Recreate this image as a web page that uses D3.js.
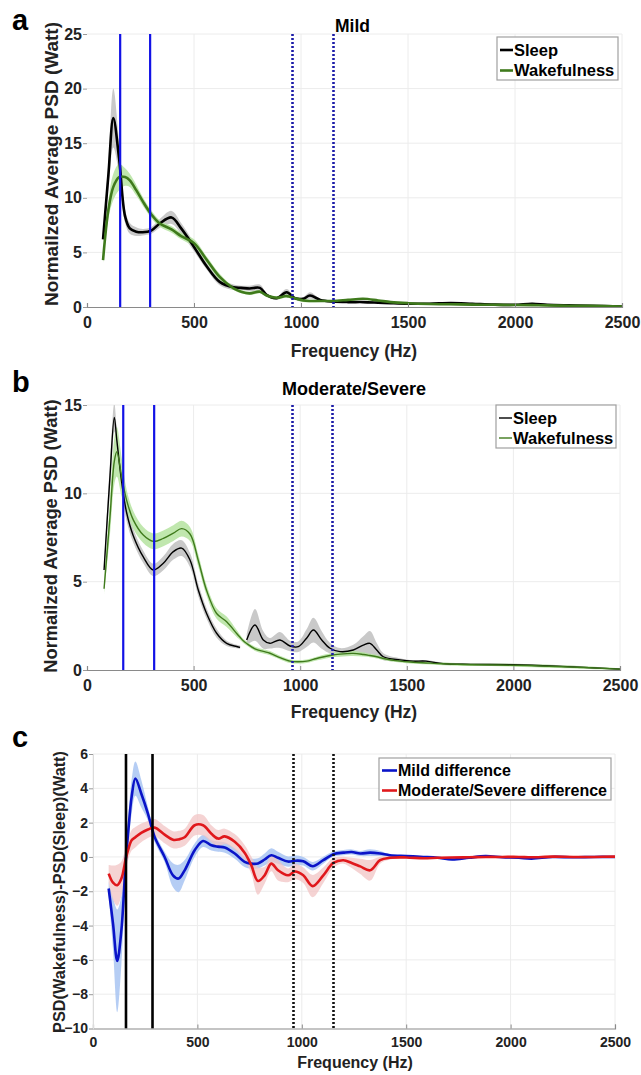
<!DOCTYPE html>
<html><head><meta charset="utf-8">
<script src="https://cdn.jsdelivr.net/npm/d3@7"></script>
<style>
body{margin:0;background:#fff}
text{font-family:"Liberation Sans",Arial,Helvetica,sans-serif;font-weight:bold}
</style>
</head><body>
<svg id="chart" width="641" height="1075"></svg>
<script>
// ---------- DATA ----------
const xTickLabels = [0, 500, 1000, 1500, 2000, 2500];
const aYTicks = [0, 5, 10, 15, 20, 25];
const bYTicks = [0, 5, 10, 15];
const cYTicks = [-10, -8, -6, -4, -2, 0, 2, 4, 6];

// Panel a: Mild
const aFreq  = [75,100,123,150,178,200,230,260,300,340,395,440,500,560,620,685,720,760,808,840,886,933,972,1010,1042,1090,1150,1220,1290,1360,1420,1500,1600,1700,1800,1900,2000,2080,2150,2250,2350,2500];
const aSleep = [6.2,12.1,17.3,13.6,8.3,7.2,6.9,6.85,7.0,7.65,8.2,7.2,5.5,3.7,2.3,1.8,1.75,1.7,1.75,1.1,0.8,1.35,0.8,0.75,1.05,0.65,0.5,0.45,0.45,0.4,0.35,0.3,0.3,0.37,0.3,0.22,0.2,0.3,0.2,0.15,0.12,0.05];
const aSleepErr = [0.4,1.2,2.7,1.5,0.6,0.5,0.4,0.3,0.3,0.4,0.6,0.5,0.4,0.3,0.3,0.25,0.2,0.25,0.3,0.15,0.15,0.3,0.15,0.15,0.3,0.1,0.08,0.08,0.08,0.08,0.08,0.08,0.08,0.08,0.08,0.08,0.08,0.08,0.08,0.08,0.08,0.05];
const aWake  = [4.3,8.9,11.0,11.9,11.9,11.6,10.7,9.7,8.5,7.65,7.1,6.5,5.85,4.3,2.75,1.7,1.4,1.25,1.4,1.05,0.85,1.0,0.8,0.6,0.55,0.55,0.55,0.65,0.75,0.6,0.45,0.35,0.28,0.25,0.22,0.2,0.18,0.17,0.15,0.12,0.1,0.05];
const aWakeErr = [0.3,0.8,1.2,1.2,0.8,0.6,0.5,0.4,0.35,0.3,0.3,0.3,0.35,0.3,0.3,0.15,0.15,0.15,0.15,0.15,0.15,0.15,0.15,0.15,0.12,0.1,0.08,0.08,0.08,0.08,0.08,0.08,0.08,0.08,0.08,0.08,0.08,0.08,0.08,0.08,0.08,0.05];

// Panel b: Moderate/Severe (null = gap in sleep trace)
const bFreq  = [80,108,128,140,163,186,217,264,311,358,405,444,483,522,561,608,655,702,718,733,749,788,827,858,905,952,991,1030,1062,1101,1140,1187,1249,1296,1327,1359,1390,1468,1530,1590,1670,1800,2000,2200,2500];
const bSleep = [5.66,11.0,14.3,13.0,10.6,8.9,7.6,6.4,5.66,6.04,6.7,6.9,6.23,4.53,3.2,2.08,1.51,1.33,1.28,null,1.7,2.55,1.7,1.51,1.7,1.36,1.32,1.8,2.26,1.7,1.23,1.04,1.13,1.41,1.51,1.13,0.75,0.57,0.5,0.5,0.36,0.32,0.3,0.22,0.05];
const bSleepErr = [0.3,0.8,0.8,0.6,0.5,0.5,0.4,0.35,0.35,0.4,0.45,0.45,0.4,0.35,0.3,0.25,0.15,0.1,0.1,null,0.3,0.9,0.5,0.3,0.45,0.3,0.3,0.5,0.7,0.5,0.3,0.2,0.3,0.5,0.7,0.4,0.2,0.1,0.06,0.06,0.06,0.06,0.06,0.06,0.04];
const bWake  = [4.6,8.7,11.8,12.35,10.9,9.6,8.5,7.64,7.28,7.45,7.75,8.0,7.7,6.2,4.5,3.2,2.73,2.07,1.85,1.65,1.5,1.2,1.05,0.95,0.7,0.5,0.47,0.5,0.6,0.72,0.82,0.9,0.94,0.88,0.82,0.75,0.65,0.5,0.44,0.4,0.35,0.3,0.27,0.2,0.05];
const bWakeErr = [0.3,1.0,1.3,1.4,1.1,0.6,0.5,0.45,0.45,0.45,0.45,0.45,0.4,0.35,0.3,0.3,0.3,0.2,0.15,0.12,0.12,0.12,0.12,0.12,0.1,0.1,0.1,0.1,0.1,0.12,0.12,0.15,0.15,0.12,0.1,0.1,0.08,0.08,0.08,0.08,0.08,0.08,0.08,0.08,0.05];

// Panel c: differences
const cFreq = [75,96,116,136,157,168,185,203,231,263,295,343,383,410,439,487,527,567,599,631,679,726,758,790,822,854,886,934,967,1007,1052,1103,1151,1199,1239,1280,1327,1375,1422,1500,1582,1650,1720,1800,1880,1960,2040,2100,2200,2300,2400,2500];
const cMild = [-1.84,-3.9,-6.06,-4.27,-0.19,1.36,3.5,4.57,3.7,2.53,1.17,0.0,-1.07,-1.26,-0.78,0.39,0.93,0.68,0.6,0.55,0.2,-0.29,-0.39,-0.38,-0.15,0.1,-0.05,-0.27,-0.22,-0.25,-0.54,-0.19,0.16,0.25,0.29,0.2,0.25,0.2,0.1,0.05,0.0,-0.05,-0.15,-0.05,0.05,-0.02,-0.05,-0.1,0.0,-0.02,0.0,0.0];
const cMildErr = [0.4,1.5,3.0,2.0,0.8,0.8,1.0,1.0,0.8,0.4,0.3,0.3,0.7,0.8,0.6,0.4,0.35,0.3,0.3,0.3,0.3,0.3,0.3,0.3,0.35,0.4,0.35,0.3,0.3,0.25,0.25,0.2,0.15,0.15,0.15,0.15,0.2,0.15,0.06,0.06,0.06,0.06,0.06,0.06,0.06,0.06,0.06,0.06,0.06,0.06,0.06,0.06];
const cSevere = [-0.97,-1.5,-1.65,-1.26,-0.1,0.4,0.97,1.15,1.4,1.6,1.71,1.3,1.0,1.02,1.15,1.85,1.85,1.35,1.07,1.2,0.88,0.25,-0.48,-1.4,-1.07,-0.39,-0.78,-1.07,-0.85,-1.07,-1.7,-1.07,-0.35,-0.19,-0.35,-0.55,-0.78,-0.19,-0.05,-0.03,-0.08,-0.05,-0.03,-0.02,0.0,0.0,0.0,-0.02,0.02,0.0,0.0,0.02];
const cSevereErr = [0.5,1.0,1.2,1.0,0.7,0.6,0.6,0.6,0.55,0.5,0.5,0.5,0.5,0.5,0.5,0.6,0.6,0.5,0.5,0.45,0.45,0.45,0.5,0.8,0.5,0.45,0.6,0.4,0.45,0.45,0.65,0.45,0.3,0.2,0.3,0.45,0.6,0.2,0.1,0.05,0.05,0.05,0.05,0.05,0.05,0.05,0.05,0.05,0.05,0.05,0.05,0.05];

// boundary lines (Hz)
const aBounds = [155, 295], bBounds = [170, 315], cBounds = [158, 285];
const dottedBounds = [960, 1150];

// ---------- DRAW ----------
const svg = d3.select("#chart");

function rows(freq, v, e) {
  return freq.map((f, i) => ({f, v: v[i], e: e[i]}));
}

function panel(cfg) {
  const g = svg.append("g");
  const x = d3.scaleLinear().domain([0, 2500]).range([cfg.left, cfg.right]);
  const y = d3.scaleLinear().domain([cfg.yTicks[0], cfg.yTicks[cfg.yTicks.length-1]]).range([cfg.bottom, cfg.top]);

  // grid
  g.selectAll(".hg").data(cfg.yTicks.slice(1)).join("line")
    .attr("x1", cfg.left).attr("x2", cfg.right)
    .attr("y1", d => y(d)).attr("y2", d => y(d))
    .attr("stroke", "#ececec").attr("stroke-width", 1);
  g.selectAll(".vg").data(xTickLabels.slice(cfg.leftGrid ? 0 : 1)).join("line")
    .attr("x1", d => x(d)).attr("x2", d => x(d))
    .attr("y1", cfg.top).attr("y2", cfg.bottom)
    .attr("stroke", "#ececec").attr("stroke-width", 1);

  const defs = svg.append("defs");
  const cid = "clip" + cfg.id;
  defs.append("clipPath").attr("id", cid).append("rect")
    .attr("x", cfg.left).attr("y", cfg.top).attr("width", cfg.right - cfg.left).attr("height", cfg.bottom - cfg.top);
  const pg = g.append("g").attr("clip-path", `url(#${cid})`);

  const curve = d3.curveCatmullRom.alpha(0.5);
  const area = d3.area().defined(d => d.v != null)
    .x(d => x(d.f)).y0(d => y(d.v - d.e)).y1(d => y(d.v + d.e)).curve(curve);
  const line = d3.line().defined(d => d.v != null)
    .x(d => x(d.f)).y(d => y(d.v)).curve(curve);

  cfg.series.forEach(s => {
    pg.append("path").datum(s.data).attr("d", area).attr("fill", s.band).attr("opacity", s.bandOp || 1);
  });
  cfg.series.forEach(s => {
    pg.append("path").datum(s.data).attr("d", line).attr("fill", "none")
      .attr("stroke", s.color).attr("stroke-width", cfg.lw).attr("stroke-linejoin", "round");
  });

  // boundary lines
  cfg.bounds.forEach(b => {
    g.append("line").attr("x1", x(b)).attr("x2", x(b)).attr("y1", cfg.top).attr("y2", cfg.bottom)
      .attr("stroke", cfg.boundColor).attr("stroke-width", cfg.boundW);
  });
  dottedBounds.forEach(b => {
    g.append("line").attr("x1", Math.round(x(b)) + 0.5).attr("x2", Math.round(x(b)) + 0.5).attr("y1", cfg.top).attr("y2", cfg.bottom)
      .attr("stroke", cfg.dotColor).attr("stroke-width", 2.6).attr("stroke-dasharray", "2,2");
  });

  // axes
  const xa = g.append("g").attr("transform", `translate(0,${cfg.bottom})`)
    .call(d3.axisBottom(x).tickValues(xTickLabels).tickFormat(d3.format("d")).tickSize(-4).tickPadding(cfg.xPad));
  xa.select(".domain").attr("stroke", "#8a8a8a").attr("stroke-width", 1.2);
  xa.selectAll(".tick line").attr("stroke", "#8a8a8a");
  xa.selectAll("text").attr("font-size", cfg.tickFs).attr("fill", "#222")
    .attr("font-family", '"Liberation Sans",Arial,sans-serif').attr("font-weight", "bold");

  const ya = g.append("g").attr("transform", `translate(${cfg.left},0)`)
    .call(d3.axisLeft(y).tickValues(cfg.yTicks).tickFormat(d3.format("d")).tickSize(4).tickPadding(cfg.yPad));
  ya.select(".domain").attr("stroke", cfg.yDomain ? "#dcdcdc" : "none");
  ya.selectAll(".tick line").attr("stroke", "#9a9a9a");
  ya.selectAll("text").attr("font-size", cfg.tickFs).attr("fill", "#222")
    .attr("font-family", '"Liberation Sans",Arial,sans-serif').attr("font-weight", "bold");

  // axis titles
  g.append("text").attr("x", cfg.xTitle[0]).attr("y", cfg.xTitle[1]).attr("text-anchor", "middle")
    .attr("font-size", cfg.xTitleFs).attr("fill", "#222").text("Frequency (Hz)");
  g.append("text").attr("transform", `translate(${cfg.yTitle[0]},${cfg.yTitle[1]}) rotate(-90)`)
    .attr("text-anchor", "middle").attr("font-size", cfg.yTitleFs).attr("fill", "#222").text(cfg.yTitleText);

  // panel letter
  g.append("text").attr("x", 12).attr("y", cfg.letterY).attr("font-size", 29).attr("fill", "#000").text(cfg.letter);

  // title
  if (cfg.title) {
    g.append("text").attr("x", cfg.title[0]).attr("y", cfg.title[1]).attr("font-size", cfg.title[3])
      .attr("fill", "#000").text(cfg.title[2]);
  }

  // legend
  const L = cfg.legend;
  g.append("rect").attr("x", L.x).attr("y", L.y).attr("width", L.w).attr("height", L.h)
    .attr("fill", "#fff").attr("stroke", "#a0a0a0").attr("stroke-width", 1.2);
  cfg.series.forEach((s, i) => {
    const ly = L.y + L.first + i * L.step;
    g.append("line").attr("x1", L.x + 3).attr("x2", L.x + 3 + L.sw).attr("y1", ly).attr("y2", ly)
      .attr("stroke", s.color).attr("stroke-width", L.lw);
    g.append("text").attr("x", L.x + 4 + L.sw).attr("y", ly).attr("dy", "0.36em")
      .attr("font-size", L.fs).attr("fill", "#000").text(s.name);
  });
}

panel({
  id: "a", left: 87, right: 622, top: 34, bottom: 307, yTicks: aYTicks, lw: 2.6,
  series: [
    {name: "Sleep", data: rows(aFreq, aSleep, aSleepErr), color: "#000000", band: "#c9c9c9"},
    {name: "Wakefulness", data: rows(aFreq, aWake, aWakeErr), color: "#3f7a1c", band: "#b5e3a0", bandOp: 0.85}
  ],
  bounds: aBounds, boundColor: "#1212e6", boundW: 2.2, dotColor: "#1c1ca8",
  xPad: 10, yPad: 1, tickFs: 16,
  xTitle: [354, 357], xTitleFs: 17.5,
  yTitle: [58, 164], yTitleFs: 19, yTitleText: "Normailzed Average PSD (Watt)",
  letter: "a", letterY: 30,
  title: [335, 32, "Mild", 17.5],
  legend: {x: 497, y: 37, w: 121, h: 43, first: 13, step: 20.5, sw: 13, lw: 2.6, fs: 16.5}
});

panel({
  id: "b", left: 87, right: 620, top: 405, bottom: 670, yTicks: bYTicks, lw: 1.4,
  series: [
    {name: "Sleep", data: rows(bFreq, bSleep, bSleepErr), color: "#000000", band: "#c9c9c9"},
    {name: "Wakefulness", data: rows(bFreq, bWake, bWakeErr), color: "#3f7a1c", band: "#b5e3a0", bandOp: 0.85}
  ],
  bounds: bBounds, boundColor: "#1212e6", boundW: 2.2, dotColor: "#1c1ca8",
  xPad: 10, yPad: 1, tickFs: 16,
  xTitle: [354, 718], xTitleFs: 17.5,
  yTitle: [56.5, 536], yTitleFs: 18.3, yTitleText: "Normailzed Average PSD (Watt)",
  letter: "b", letterY: 392,
  title: [282, 395, "Moderate/Severe", 18],
  legend: {x: 496, y: 405, w: 120, h: 43, first: 13, step: 20, sw: 13, lw: 1.4, fs: 16.5}
});

panel({
  id: "c", left: 93, right: 615, top: 754, bottom: 1028.5, yTicks: cYTicks, lw: 2.6, leftGrid: true, yDomain: true,
  series: [
    {name: "Mild difference", data: rows(cFreq, cMild, cMildErr), color: "#0a14c8", band: "#a8c4f2", bandOp: 0.85},
    {name: "Moderate/Severe difference", data: rows(cFreq, cSevere, cSevereErr), color: "#e0181c", band: "#f2c4c4", bandOp: 0.75}
  ],
  bounds: cBounds, boundColor: "#000000", boundW: 2.6, dotColor: "#111111",
  xPad: 9, yPad: 1, tickFs: 14,
  xTitle: [355, 1068], xTitleFs: 16,
  yTitle: [65, 892], yTitleFs: 16.3, yTitleText: "PSD(Wakefulness)-PSD(Sleep)(Watt)",
  letter: "c", letterY: 747,
  legend: {x: 379, y: 758, w: 232, h: 42, first: 12.5, step: 20, sw: 15, lw: 2.6, fs: 16}
});
</script>
</body></html>
